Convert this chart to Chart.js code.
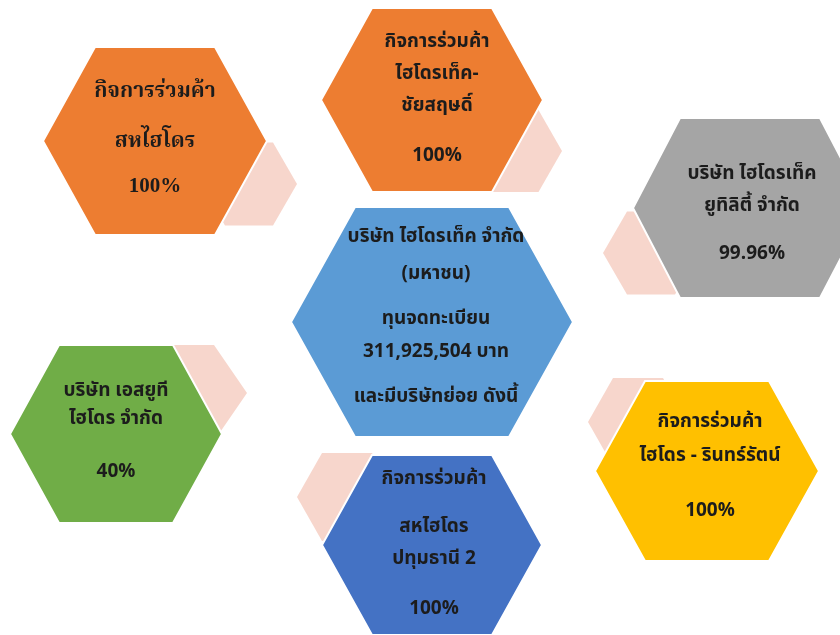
<!DOCTYPE html>
<html>
<head>
<meta charset="utf-8">
<script src="https://cdn.jsdelivr.net/npm/chart.js@4.4.1/dist/chart.umd.min.js"></script>
<style>
html,body{margin:0;padding:0;background:#fff;}
#wrap{width:840px;height:635px;}
</style>
</head>
<body>
<div id="wrap"><canvas id="c" width="840" height="635"></canvas></div>
<script>
// ---- data ----
const companyLines = [
  ['กิจการร่วมค้า', 'สหไฮโดร'],
  ['กิจการร่วมค้า', 'ไฮโดรเท็ค-', 'ชัยสฤษดิ์'],
  ['บริษัท ไฮโดรเท็ค', 'ยูทิลิตี้ จำกัด'],
  ['บริษัท ไฮโดรเท็ค จำกัด', '(มหาชน)', 'ทุนจดทะเบียน', '311,925,504 บาท', 'และมีบริษัทย่อย ดังนี้'],
  ['บริษัท เอสยูที', 'ไฮโดร จำกัด'],
  ['กิจการร่วมค้า', 'ไฮโดร - รินทร์รัตน์'],
  ['กิจการร่วมค้า', 'สหไฮโดร', 'ปทุมธานี 2']
];
const shareLabels = ['100%', '100%', '99.96%', null, '40%', '100%', '100%'];

// ---- layout (positions / sizes, in chart units) ----
const hexLayout = [
  {x:155, y:141, w:112, h:94, t:60},
  {x:432, y:100, w:111, h:92, t:60},
  {x:750, y:208, w:117, h:90, t:70},
  {x:432, y:322, w:141, h:115, t:77},
  {x:116, y:434, w:106, h:89, t:57},
  {x:707, y:471, w:112, h:90, t:62},
  {x:432, y:545, w:110, h:90, t:60}
];
const tabLayout = [
  {x:249, y:184, w:48, h:41.5, t:24},
  {x:515, y:151, w:47, h:41, t:23.5},
  {x:651, y:253, w:48, h:41.5, t:24},
  {x:187, y:393, w:60, h:48, t:27},
  {x:638, y:422, w:50, h:44, t:25},
  {x:347, y:497, w:50, h:44, t:25}
];
const textLayout = [
  {x:155, ys:[92,142,187], font:'bold 21px "Liberation Serif", "Noto Serif Thai", serif'},
  {x:437, ys:[43,75,107,157]},
  {x:752, ys:[175,207,255]},
  {x:436, ys:[238,275,320,353,398]},
  {x:116, ys:[392,420,473]},
  {x:710, ys:[423,457,512]},
  {x:434, ys:[480,528,560,610]}
];
const hexColors = ['#ED7D31','#ED7D31','#A5A5A5','#5B9BD5','#70AD47','#FFC000','#4472C4'];
const tabColor = '#F7D6CC';
const defaultFont = 'bold 19px Tahoma, "Noto Sans Thai", "Noto Sans", "DejaVu Sans", sans-serif';

function hexPath(ctx, xs, ys, p){
  const cx = xs.getPixelForValue(p.x), cy = ys.getPixelForValue(p.y);
  const w = xs.getPixelForValue(p.x + p.w) - cx;
  const t = xs.getPixelForValue(p.x + p.t) - cx;
  const h = Math.abs(ys.getPixelForValue(p.y + p.h) - cy);
  ctx.beginPath();
  ctx.moveTo(cx - w, cy);
  ctx.lineTo(cx - t, cy - h);
  ctx.lineTo(cx + t, cy - h);
  ctx.lineTo(cx + w, cy);
  ctx.lineTo(cx + t, cy + h);
  ctx.lineTo(cx - t, cy + h);
  ctx.closePath();
}

const hexPlugin = {
  id: 'hexPlugin',
  afterDatasetsDraw(chart){
    const ctx = chart.ctx, xs = chart.scales.x, ys = chart.scales.y;
    ctx.save();
    // tabs
    chart.data.datasets[0].data.forEach(p => {
      hexPath(ctx, xs, ys, p);
      ctx.fillStyle = tabColor;
      ctx.fill();
    });
    // main hexes
    chart.data.datasets[1].data.forEach((p, i) => {
      hexPath(ctx, xs, ys, p);
      ctx.fillStyle = hexColors[i];
      ctx.fill();
      ctx.lineWidth = 2;
      ctx.strokeStyle = '#ffffff';
      ctx.stroke();
    });
    // text
    ctx.textAlign = 'center';
    ctx.textBaseline = 'middle';
    ctx.fillStyle = '#1c1c1c';
    companyLines.forEach((lines, i) => {
      const tl = textLayout[i];
      const all = shareLabels[i] ? lines.concat([shareLabels[i]]) : lines;
      ctx.font = tl.font || defaultFont;
      all.forEach((s, j) => {
        ctx.fillText(s, xs.getPixelForValue(tl.x), ys.getPixelForValue(tl.ys[j]));
      });
    });
    ctx.restore();
  }
};

new Chart(document.getElementById('c'), {
  type: 'scatter',
  data: {
    datasets: [
      {label: 'tabs', data: tabLayout, pointRadius: 0, pointHoverRadius: 0},
      {label: 'companies', data: hexLayout, pointRadius: 0, pointHoverRadius: 0}
    ]
  },
  options: {
    responsive: false,
    animation: false,
    events: [],
    layout: {padding: 0},
    plugins: {legend: {display: false}, tooltip: {enabled: false}, title: {display: false}},
    scales: {
      x: {type: 'linear', min: 0, max: 840, display: false},
      y: {type: 'linear', min: 0, max: 635, reverse: true, display: false}
    }
  },
  plugins: [hexPlugin]
});
</script>
</body>
</html>
